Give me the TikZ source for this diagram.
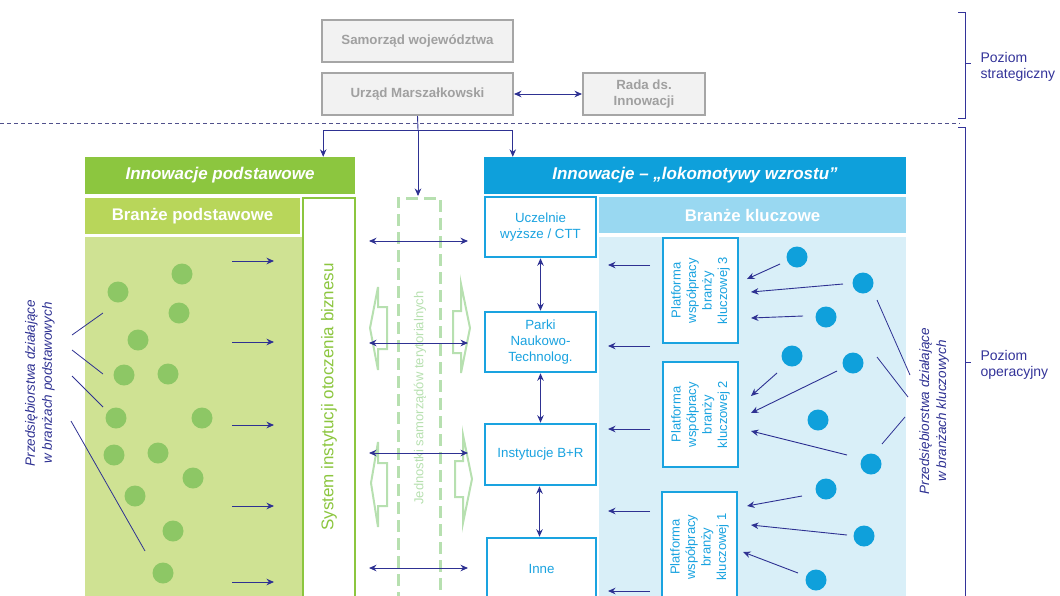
\documentclass[tikz,border=0pt]{standalone}
\usepackage{fontspec}
\setmainfont{Liberation Sans}
\usetikzlibrary{arrows.meta,calc}
\definecolor{navy}{RGB}{46,49,146}
\definecolor{dashnavy}{RGB}{80,80,140}
\definecolor{boxgray}{RGB}{166,166,166}
\definecolor{grayfill}{RGB}{242,242,242}
\definecolor{textgray}{RGB}{160,160,160}
\definecolor{ghead}{RGB}{140,198,63}
\definecolor{gsub}{RGB}{184,214,90}
\definecolor{garea}{RGB}{207,226,147}
\definecolor{gcirc}{RGB}{141,199,101}
\definecolor{lgreen}{RGB}{183,224,176}
\definecolor{bhead}{RGB}{14,160,219}
\definecolor{bsub}{RGB}{153,216,241}
\definecolor{barea}{RGB}{217,239,248}
\definecolor{bline}{RGB}{26,163,224}
\definecolor{bcirc}{RGB}{15,160,219}
\definecolor{brtext}{RGB}{51,51,153}
\begin{document}
\begin{tikzpicture}[x=1pt,y=-1pt,
  graybox/.style={draw=boxgray,line width=2pt,fill=grayfill,text=textgray,
    font=\fontsize{13.3}{16}\selectfont\bfseries,inner sep=0pt,align=center},
  header/.style={inner sep=0pt,text=white,font=\fontsize{17}{20}\selectfont\bfseries\itshape},
  subhead/.style={inner sep=0pt,text=white,font=\fontsize{16.8}{20}\selectfont\bfseries},
  area/.style={inner sep=0pt},
  bluebox/.style={draw=bline,line width=2.5pt,fill=white,text=bline,inner sep=0pt,
    align=center,font=\fontsize{13.3}{16}\selectfont},
  platbox/.style={draw=bline,line width=2.5pt,fill=white,inner sep=0pt},
  plattext/.style={rotate=90,text=bline,align=center,font=\fontsize{13}{15.5}\selectfont},
  arr/.style={navy,line width=0.9pt,-{Stealth[length=7.5pt,width=6.5pt]}},
  darr/.style={navy,line width=0.9pt,{Stealth[length=7.5pt,width=6.5pt]}-{Stealth[length=7.5pt,width=6.5pt]}},
  thin/.style={navy,line width=0.8pt},
  gdot/.style={circle,fill=gcirc,minimum size=21pt,inner sep=0pt},
  bdot/.style={circle,fill=bcirc,minimum size=21pt,inner sep=0pt},
  fat/.style={draw=lgreen,line width=2pt,line join=miter},
  sidetext/.style={rotate=90,text=navy,align=center,font=\fontsize{13.5}{17}\selectfont\itshape},
  brtxt/.style={anchor=west,text=brtext,align=left,font=\fontsize{14}{16.5}\selectfont},
  bracket/.style={brtext,line width=1pt}]
\useasboundingbox (0,0) rectangle (1060,595);
\clip (0,0) rectangle (1060,595);

% top level
\node[graybox,minimum width=191pt,minimum height=42pt] (sam) at (417.5,41) {Samorząd województwa};
\node[graybox,minimum width=191pt,minimum height=42pt] (urz) at (417.5,94) {Urząd Marszałkowski};
\node[graybox,minimum width=122pt,minimum height=42pt] (rada) at (644,94) {Rada ds.\\Innowacji};
\draw[darr] (urz.east) -- (rada.west);

% dashed separator
\coordinate (sepL) at (0,123);
\coordinate (sepR) at (960,123);
\draw[dashnavy,line width=1pt,dash pattern=on 4pt off 3pt] (sepL) -- (sepR);

% brackets
\draw[bracket] (958,12) -- (965,12) -- (965,118) -- (958,118);
\draw[bracket] (965,63) -- (971,63);
\node[brtxt] (strat) at (977,67) {Poziom\\strategiczny};
\draw[bracket] (958,127) -- (965,127) -- (965,600);
\draw[bracket] (965,362) -- (971,362);
\node[brtxt] (oper) at (977,365) {Poziom\\operacyjny};

% left column
\node[header,fill=ghead,minimum width=270pt,minimum height=37pt] (gh) at (220,175.5) {Innowacje podstawowe};
\node[subhead,fill=gsub,minimum width=215pt,minimum height=36pt] (gs) at (192.5,216) {Branże podstawowe};
\node[area,fill=garea,minimum width=218pt,minimum height=365pt] (ga) at (194,419.5) {};
\node[draw=ghead,line width=2.5pt,fill=white,minimum width=52pt,minimum height=404pt,inner sep=0pt] (sys) at (329,400) {};
\node[rotate=90,text=ghead,font=\fontsize{17}{20}\selectfont] (systxt) at (329,397) {System instytucji otoczenia biznesu};

% green dots
\foreach \x/\y [count=\i] in {182/274,118/292,179/313,138/340,124/375,168/374,116/418,202/418,114/455,158/453,193/478,135/496,173/531,163/573}
  \node[gdot] (g\i) at (\x,\y) {};

% left side text and lines
\node[sidetext] (ltxt) at (40,383) {Przedsiębiorstwa działające\\w branżach podstawowych};
\draw[thin] (72,335) -- (103,313);
\draw[thin] (72,350) -- (103,374);
\draw[thin] (72,376) -- (103,407);
\draw[thin] (71,421) -- (145,551);

% arrows left panel
\foreach \y in {261,342,425,506,582}
  \draw[arr] (232,\y) -- (274,\y);

% JST dashed box
\node[draw=lgreen,line width=3pt,dash pattern=on 12pt off 6pt,minimum width=42pt,minimum height=404pt,inner sep=0pt] (jst) at (419,400) {};
\node[rotate=90,text=lgreen,font=\fontsize{13}{15}\selectfont] (jsttxt) at (420,398) {Jednostki samorządów terytorialnych};

% fat arrows
\draw[fat] (378,287) -- (370,328) -- (378,370) -- (378,349) -- (387,349) -- (387,307) -- (378,307) -- cycle;
\draw[fat] (461,284) -- (470,328) -- (461,373) -- (461,353) -- (453,353) -- (453,311) -- (461,311) -- cycle;
\draw[fat] (378,442) -- (371,483) -- (378,527) -- (378,506) -- (387,506) -- (387,463) -- (378,463) -- cycle;
\draw[fat] (463,435) -- (472,479) -- (463,523) -- (463,497) -- (455,497) -- (455,461) -- (463,461) -- cycle;

% middle double arrows
\foreach \y in {241,343,453,568}
  \draw[darr] (369,\y) -- (468,\y);

% right column
\node[header,fill=bhead,minimum width=422pt,minimum height=37pt] (bh) at (695,175.5) {Innowacje – „lokomotywy wzrostu”};
\node[subhead,fill=bsub,minimum width=307pt,minimum height=36pt] (bs) at (752.5,215) {Branże kluczowe};
\node[area,fill=barea,minimum width=307pt,minimum height=365pt] (ba) at (752.5,419.5) {};

\node[bluebox,minimum width=111pt,minimum height=60pt] (ucz) at (540.5,227) {Uczelnie\\wyższe / CTT};
\node[bluebox,minimum width=111pt,minimum height=60pt] (park) at (540.5,342) {Parki\\Naukowo-\\Technolog.};
\node[bluebox,minimum width=111pt,minimum height=61pt] (ibr) at (540.5,454.5) {Instytucje B+R};
\node[bluebox,minimum width=109pt,minimum height=62pt] (inne) at (541.5,569) {Inne};
\draw[darr] (ucz.south) -- (park.north);
\draw[darr] (park.south) -- (ibr.north);
\draw[darr] ([xshift=-1pt]ibr.south) -- ([xshift=-2pt]inne.north);

\node[platbox,minimum width=75pt,minimum height=105pt] (p3) at (700.5,290.5) {};
\node[plattext] at (p3) {Platforma\\współpracy\\branży\\kluczowej 3};
\node[platbox,minimum width=75pt,minimum height=105pt] (p2) at (700.5,414.5) {};
\node[plattext] at (p2) {Platforma\\współpracy\\branży\\kluczowej 2};
\node[platbox,minimum width=75pt,minimum height=110pt] (p1) at (699.5,547) {};
\node[plattext] at (p1) {Platforma\\współpracy\\branży\\kluczowej 1};

\foreach \y in {265,346,429,511,591}
  \draw[arr] (650,\y) -- (608,\y);

% blue dots
\foreach \x/\y [count=\i] in {797/257,863/283,826/317,792/356,853/363,818/420,871/464,826/489,864/536,816/580}
  \node[bdot] (b\i) at (\x,\y) {};

% arrows from dots to platforms
\foreach \a/\b/\c/\d in {780/264/747/279,843/284/751/292,803/316/751/318,777/373/751/396,837/371/751/413,847/455/751/431,802/496/747/506,847/535/751/525,798/573/743/552}
  \draw[arr] (\a,\b) -- (\c,\d);

% right side text and lines
\node[sidetext] (rtxt) at (934,411) {Przedsiębiorstwa działające\\w branżach kluczowych};
\draw[thin] (877,300) -- (910,375);
\draw[thin] (877,357) -- (908,397);
\draw[thin] (905,417) -- (882,444);

% connectors from Urząd
\coordinate (br) at (418,130);
\draw[navy,line width=0.9pt] (urz.south) -- (br);
\draw[arr] (br) -- (418,196);
\draw[arr] (br) -| ([xshift=-32pt]gh.north east);
\draw[arr] (br) -| ([xshift=29pt]bh.north west);
\end{tikzpicture}
\end{document}
